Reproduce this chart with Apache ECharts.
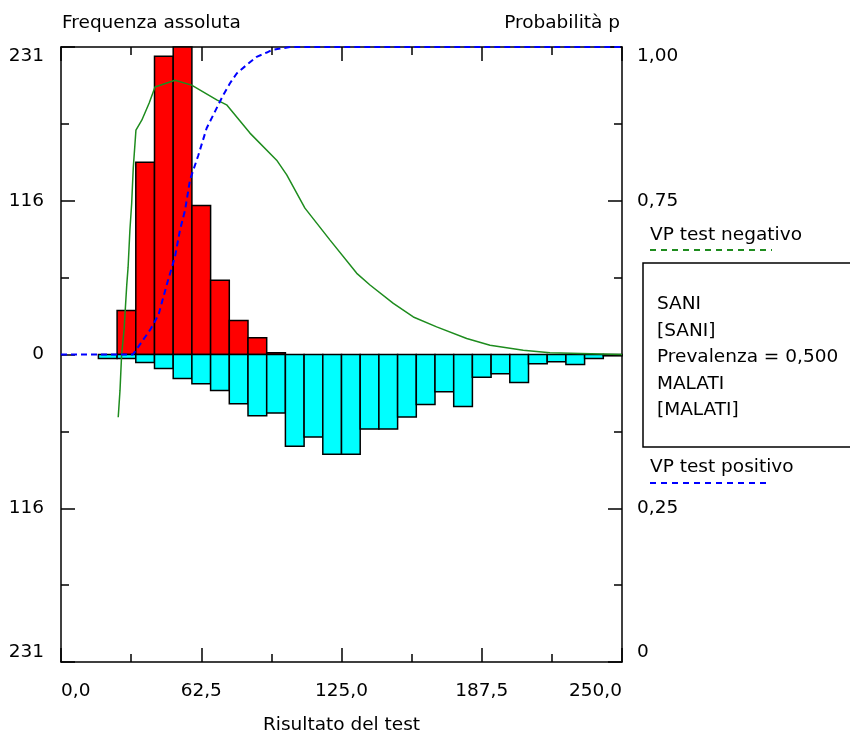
<!DOCTYPE html>
<html lang="en">
<head>
	<meta charset="UTF-8">
	<title>Frequenza assoluta</title>
	<script src="https://cdn.jsdelivr.net/npm/echarts@6/dist/echarts.min.js"></script>
</head>
<body style="margin:0;background:#fff;">
	<div id="chart" style="width:850px;height:740px;"></div>
<script type="text/javascript">
	// istogramma: 30 classi da 0 a 250
	let binWidth = 250 / 30;
	let sani = [0, 0, 0, 33, 144.5, 224, 231, 112, 55.7, 25.5, 12.5, 1.3, 0, 0, 0,
		0, 0, 0, 0, 0, 0, 0, 0, 0, 0, 0, 0, 0, 0, 0];
	let malati = [0, 0, 3, 3, 6, 10.5, 18, 22, 27, 37, 46, 44, 69, 62, 75,
		75, 56, 56, 47, 37.5, 28, 39, 17, 14.5, 21, 7, 5.5, 7.5, 3, 1];

	// VP test negativo (verde)
	let vpNegX = [25.5, 26.3, 27.0, 28.1, 29.3, 29.9, 30.7, 31.5, 32.2, 33.4, 36.0, 39.3, 41.9, 50.8, 58.2, 69.4, 73.8,
		84.2, 96.1, 100.6, 108.7, 119.9, 131.8, 137.7, 148.1, 157.0, 167.4, 180.8, 191.2, 206.0, 217.9, 250];
	let vpNegP = [0.398, 0.442, 0.499, 0.540, 0.613, 0.642, 0.702, 0.746, 0.803, 0.865, 0.881, 0.909, 0.935, 0.946, 0.938, 0.914, 0.906,
		0.860, 0.816, 0.792, 0.738, 0.686, 0.632, 0.613, 0.583, 0.561, 0.545, 0.526, 0.515, 0.507, 0.503, 0.5];

	// VP test positivo (blu)
	let vpPosX = [0, 32, 33.0, 39.7, 43.4, 47.1, 50.8, 53.0, 55.3, 57.5, 61.2, 64.9, 68.6, 72.3, 75.3, 78.3, 82.8, 87.2, 91.7, 93.9, 102, 250];
	let vpPosP = [0.5, 0.5, 0.505, 0.540, 0.564, 0.613, 0.659, 0.702, 0.735, 0.784, 0.824, 0.868, 0.895, 0.922, 0.941, 0.957, 0.971, 0.984, 0.991, 0.995, 1.0, 1.0];

	let legendLines = ['SANI', '[SANI]', 'Prevalenza = 0,500', 'MALATI', '[MALATI]'];

	let font = '"DejaVu Sans", sans-serif';
	let fontSize = 18.5;
	let myChart = echarts.init(document.getElementById('chart'));

	function bins(values, sign) {
		return values.map(function (v, i) {
			return [i * binWidth, (i + 1) * binWidth, sign * v];
		});
	}

	function pairs(xs, ys) {
		return xs.map(function (x, i) { return [x, ys[i]]; });
	}

	function renderBar(color) {
		return function (params, api) {
			if (api.value(2) === 0) return;
			let p0 = api.coord([api.value(0), api.value(2)]);
			let p1 = api.coord([api.value(1), 0]);
			return {
				type: 'rect',
				shape: {
					x: p0[0], y: Math.min(p0[1], p1[1]),
					width: p1[0] - p0[0], height: Math.abs(p1[1] - p0[1])
				},
				style: { fill: color, stroke: '#000', lineWidth: 1.5 }
			};
		};
	}

	// ogni asse ha i suoi oggetti di stile, con onZero spento
	function axisStyle() {
		return {
			axisLine: { show: true, onZero: false, lineStyle: { color: '#000', width: 1.5 } },
			axisTick: { show: true, inside: true, length: 14, lineStyle: { color: '#000', width: 1.5 } },
			minorTick: { show: true, splitNumber: 2, length: 8, lineStyle: { color: '#000', width: 1.5 } },
			splitLine: { show: false },
			minorSplitLine: { show: false }
		};
	}

	function labelStyle(extra) {
		return Object.assign({ color: '#000', fontSize: fontSize, fontFamily: font }, extra);
	}

	let titleStyle = { color: '#000', fontSize: fontSize, fontWeight: 'normal', fontFamily: font };
	let textFont = fontSize + 'px ' + font;

	let option = {
		animation: false,
		title: [
			{ text: 'Frequenza assoluta', left: 57, top: 9, textStyle: titleStyle },
			{ text: 'Probabilità p', right: 225, top: 9, textStyle: titleStyle }
		],
		grid: { left: 61, right: 228, top: 47, bottom: 78 },
		xAxis: [
			Object.assign(axisStyle(), {
				type: 'value', position: 'bottom', min: 0, max: 250, interval: 62.5,
				axisLabel: labelStyle({
					margin: 20, alignMinLabel: 'left', alignMaxLabel: 'right',
					formatter: function (v) { return v.toFixed(1).replace('.', ','); }
				}),
				name: 'Risultato del test', nameLocation: 'middle', nameGap: 54,
				nameTextStyle: labelStyle({})
			}),
			Object.assign(axisStyle(), {
				type: 'value', position: 'top', min: 0, max: 250, interval: 62.5,
				axisLabel: { show: false }
			})
		],
		yAxis: [
			Object.assign(axisStyle(), {
				type: 'value', position: 'left', min: -231, max: 231, interval: 115.5,
				axisLabel: labelStyle({
					margin: 17, verticalAlignMaxLabel: 'top', verticalAlignMinLabel: 'bottom',
					formatter: function (v) { return String(Math.round(Math.abs(v))); }
				})
			}),
			Object.assign(axisStyle(), {
				type: 'value', position: 'right', min: 0, max: 1, interval: 0.25,
				axisLabel: labelStyle({
					margin: 15, verticalAlignMaxLabel: 'top', verticalAlignMinLabel: 'bottom',
					formatter: function (v) {
						if (v === 0) return '0';
						if (v === 0.5) return '';
						return v.toFixed(2).replace('.', ',');
					}
				})
			})
		],
		series: [
			{
				type: 'custom', name: 'SANI', xAxisIndex: 0, yAxisIndex: 0,
				renderItem: renderBar('#ff0000'), data: bins(sani, 1), z: 2
			},
			{
				type: 'custom', name: 'MALATI', xAxisIndex: 0, yAxisIndex: 0,
				renderItem: renderBar('#00ffff'), data: bins(malati, -1), z: 2
			},
			{
				type: 'line', name: 'VP test negativo', xAxisIndex: 0, yAxisIndex: 1,
				data: pairs(vpNegX, vpNegP), showSymbol: false, z: 3,
				lineStyle: { color: '#1e8c1e', width: 1.5 }
			},
			{
				type: 'line', name: 'VP test positivo', xAxisIndex: 0, yAxisIndex: 1,
				data: pairs(vpPosX, vpPosP), showSymbol: false, z: 3,
				lineStyle: { color: '#0000ff', width: 2, type: [6, 4] }
			}
		],
		graphic: [
			{ type: 'text', left: 650, top: 226, style: { text: 'VP test negativo', fill: '#000', font: textFont } },
			{ type: 'line', shape: { x1: 650, y1: 250, x2: 772, y2: 250 }, style: { stroke: '#1e8c1e', lineWidth: 2, lineDash: [6, 5] } },
			{ type: 'rect', shape: { x: 643, y: 263, width: 230, height: 184 }, style: { fill: 'none', stroke: '#000', lineWidth: 1.5 } },
			{ type: 'text', left: 657, top: 291, style: { text: legendLines.join('\n'), fill: '#000', font: textFont, lineHeight: 26.5 } },
			{ type: 'text', left: 650, top: 458, style: { text: 'VP test positivo', fill: '#000', font: textFont } },
			{ type: 'line', shape: { x1: 650, y1: 483, x2: 770, y2: 483 }, style: { stroke: '#0000ff', lineWidth: 2, lineDash: [6, 5] } }
		]
	};
	myChart.setOption(option);
</script>
</body>
</html>
